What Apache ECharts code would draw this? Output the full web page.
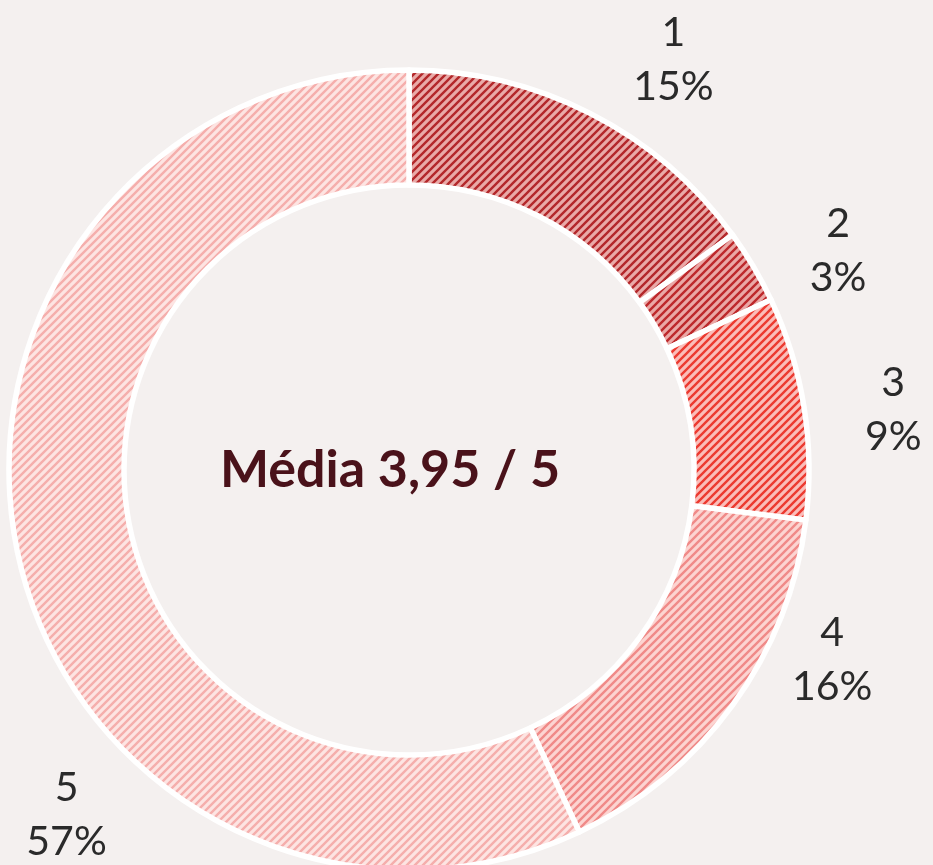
<!DOCTYPE html>
<html><head><meta charset="utf-8">
<script src="https://cdn.jsdelivr.net/npm/echarts@6/dist/echarts.min.js"></script>
<style>html,body{margin:0;padding:0;background:#f4f0ef;}#c{width:933px;height:865px;}</style>
</head><body><div id="c"></div>
<script>
const categories = ['1', '2', '3', '4', '5'];
const values = [15, 3, 9, 16, 57];
const centerTitle = 'Média 3,95 / 5';
const baseColors = ['#e9aaa8', '#eaa8a6', '#fabdb9', '#fcd4d1', '#fde4e2'];
const lineColors = ['#b3282b', '#bd292c', '#ec3a30', '#f08a88', '#f5aeac'];
const labelAngles = [32.8, 62.9, 82.9, 114.2, 224.8];
const labelRadii = [488, 482, 488, 464, 486];

function makePattern(base, line) {
  const s = 8;
  const cv = document.createElement('canvas');
  cv.width = s; cv.height = s;
  const g = cv.getContext('2d');
  g.fillStyle = base; g.fillRect(0, 0, s, s);
  g.strokeStyle = line; g.lineWidth = 2.4;
  g.beginPath();
  g.moveTo(-2, s + 2); g.lineTo(s + 2, -2);
  g.moveTo(-2, 2); g.lineTo(2, -2);
  g.moveTo(s - 2, s + 2); g.lineTo(s + 2, s - 2);
  g.stroke();
  return { image: cv, repeat: 'repeat' };
}

const chart = echarts.init(document.getElementById('c'));
const cx = 409, cy = 470;
chart.setOption({
  backgroundColor: '#f4f0ef',
  animation: false,
  title: {
    text: centerTitle, left: 390, top: 470, padding: 0, textAlign: 'center', textVerticalAlign: 'middle',
    textStyle: { fontFamily: 'Lato', fontWeight: 'bold', fontSize: 52, color: '#4a121a' }
  },
  series: [{
    type: 'pie',
    center: [cx, cy],
    radius: [285, 400],
    startAngle: 90,
    clockwise: true,
    data: categories.map((c, i) => ({
      name: c, value: values[i],
      itemStyle: { color: makePattern(baseColors[i], lineColors[i]) }
    })),
    itemStyle: { borderColor: '#ffffff', borderWidth: 5.5 },
    label: {
      show: true, position: 'outside',
      formatter: p => p.name + '\n' + p.value + '%',
      fontFamily: 'Lato', fontWeight: 'normal', fontSize: 41, lineHeight: 54,
      color: '#2a2a2a', align: 'center', width: 160, overflow: 'none'
    },
    labelLine: { show: false, length: 0, length2: 0 },
    labelLayout: function (p) {
      const a = labelAngles[p.dataIndex] * Math.PI / 180;
      const r = labelRadii[p.dataIndex];
      return {
        x: cx + r * Math.sin(a), y: cy - r * Math.cos(a),
        align: 'center', verticalAlign: 'middle'
      };
    },
    emphasis: { disabled: true }
  }]
});
</script></body></html>
